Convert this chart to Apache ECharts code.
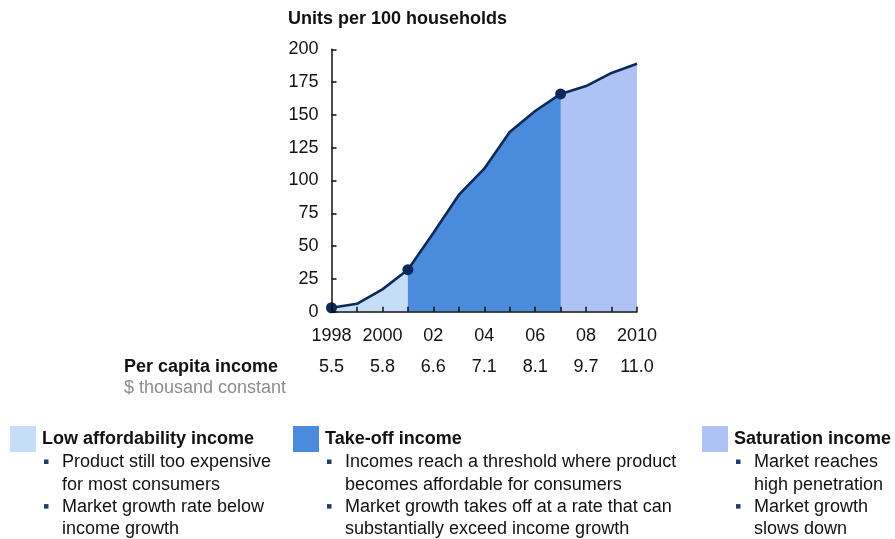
<!DOCTYPE html>
<html><head><meta charset="utf-8">
<script src="https://cdn.jsdelivr.net/npm/echarts@6/dist/echarts.min.js"></script>
<style>html,body{margin:0;padding:0;background:#fff}#c{width:895px;height:539px}</style>
</head><body><div id="c"></div>
<script>
const years = ['1998','1999','2000','2001','2002','2003','2004','2005','2006','2007','2008','2009','2010'];
const yearLabels = ['1998','','2000','','02','','04','','06','','08','','2010'];
const units = [3, 6, 17, 32, 60, 89, 109, 137, 153, 166, 172, 182, 189];
const income = ['5.5','','5.8','','6.6','','7.1','','8.1','','9.7','','11.0'];
const lowEnd = 3, takeoffEnd = 9;
const markIdx = [0, 3, 9];
const yTicks = { min: 0, max: 200, interval: 25 };

const phases = [
  { name: 'Low affordability income', color: '#C5DDF6', x: 10, bullets: [['Product still too expensive','for most consumers'],['Market growth rate below','income growth']] },
  { name: 'Take-off income', color: '#4A8BDB', x: 293, bullets: [['Incomes reach a threshold where product','becomes affordable for consumers'],['Market growth takes off at a rate that can','substantially exceed income growth']] },
  { name: 'Saturation income', color: '#AEC3F3', x: 702, bullets: [['Market reaches','high penetration'],['Market growth','slows down']] }
];

const FONT = '"Liberation Sans", Arial, sans-serif';
const FS = 18;
const navy = '#0B2A5B';

function seg(a, b) { return units.map((v, i) => (i >= a && i <= b) ? v : null); }

// under-layers extend one step into the take-off zone to hide anti-alias seams
const areaSeries = [
  { range: [0, lowEnd + 1], color: phases[0].color, z: 1 },
  { range: [takeoffEnd - 1, units.length - 1], color: phases[2].color, z: 1 },
  { range: [lowEnd, takeoffEnd], color: phases[1].color, z: 2 }
].map(s => ({
  type: 'line', data: seg(s.range[0], s.range[1]), symbol: 'none', silent: true,
  lineStyle: { width: 0 }, areaStyle: { color: s.color, opacity: 1 }, z: s.z
}));

const graphics = [
  { type: 'text', left: 288, top: 10, style: { text: 'Units per 100 households', font: 'bold ' + FS + 'px ' + FONT, fill: '#111' } },
  { type: 'text', x: 124, y: 367, style: { text: 'Per capita income', font: 'bold ' + FS + 'px ' + FONT, fill: '#111', textVerticalAlign: 'middle' } },
  { type: 'text', x: 124, y: 388, style: { text: '$ thousand constant', font: FS + 'px ' + FONT, fill: '#8c8c8c', textVerticalAlign: 'middle' } }
];
phases.forEach(p => {
  graphics.push({ type: 'rect', shape: { x: p.x, y: 426, width: 26, height: 26 }, style: { fill: p.color } });
  graphics.push({ type: 'text', x: p.x + 32, y: 439, style: { text: p.name, font: 'bold ' + FS + 'px ' + FONT, fill: '#111', textVerticalAlign: 'middle' } });
  let line = 0;
  p.bullets.forEach(b => {
    const yy = 462.5 + line * 22.3;
    graphics.push({ type: 'rect', shape: { x: p.x + 34, y: yy - 3, width: 4.5, height: 4.5 }, style: { fill: '#1F3A6B' } });
    b.forEach(t => {
      graphics.push({ type: 'text', x: p.x + 52, y: 462.5 + line * 22.3, style: { text: t, font: FS + 'px ' + FONT, fill: '#111', textVerticalAlign: 'middle' } });
      line++;
    });
  });
});

const chart = echarts.init(document.getElementById('c'), null, { renderer: 'canvas' });
chart.setOption({
  animation: false,
  backgroundColor: '#fff',
  grid: { left: 331.5, right: 258, top: 49.3, bottom: 227.3, containLabel: false },
  xAxis: {
    type: 'category', data: years, boundaryGap: false, z: 10,
    axisLine: { lineStyle: { color: '#111', width: 1.5 } },
    axisTick: { inside: true, length: 5, interval: 0, lineStyle: { color: '#111', width: 1.5 } },
    axisLabel: {
      interval: 0, margin: 9,
      formatter: (v, i) => yearLabels[i] ? '{yr|' + yearLabels[i] + '}\n{inc|' + income[i] + '}' : '',
      rich: {
        yr: { fontFamily: FONT, fontSize: FS, color: '#111', lineHeight: 31 },
        inc: { fontFamily: FONT, fontSize: FS, color: '#111', lineHeight: 31 }
      }
    },
    splitLine: { show: false }
  },
  yAxis: {
    type: 'value', min: yTicks.min, max: yTicks.max, interval: yTicks.interval, z: 10,
    axisLine: { show: true, lineStyle: { color: '#111', width: 1.5 } },
    axisTick: { show: true, inside: true, length: 5, lineStyle: { color: '#111', width: 1.5 } },
    axisLabel: { fontFamily: FONT, fontSize: FS, color: '#111', margin: 13 },
    splitLine: { show: false }
  },
  series: [
    ...areaSeries,
    { type: 'line', data: units, symbol: 'none', lineStyle: { color: navy, width: 2.6 }, z: 5 },
    { type: 'line', data: units.map((v, i) => markIdx.includes(i) ? v : null), symbol: 'circle', symbolSize: 11,
      itemStyle: { color: navy }, lineStyle: { width: 0 }, connectNulls: false, z: 6 }
  ],
  graphic: graphics
});
</script></body></html>
